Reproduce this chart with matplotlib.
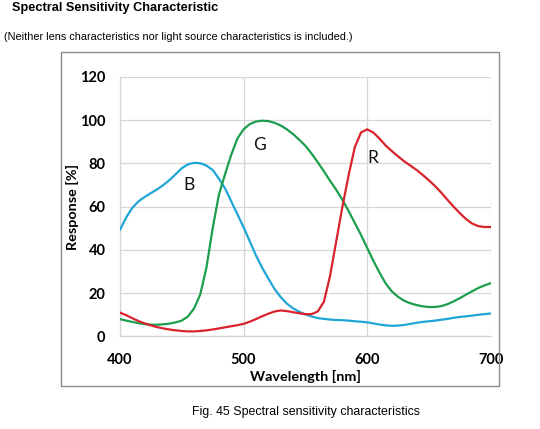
"""Spectral sensitivity chart (B / G / R response vs wavelength)."""

import matplotlib

matplotlib.use("Agg")
import matplotlib.pyplot as plt
from matplotlib.patches import Rectangle

# Data (5 nm steps)
WAVELENGTH = list(range(400, 701, 5))

RESP_B = [49.3, 55, 59.5, 62.5, 64.5, 66.3, 68, 70, 72.3, 75, 77.8, 79.6, 80.3,
          80.1, 79, 77, 73, 68.5, 62.5, 56.5, 50.5, 44, 37.5, 31.8, 26.8, 22,
          18.2, 15.2, 13, 11.4, 10.2, 9.2, 8.5, 8.1, 7.8, 7.6, 7.5, 7.3, 7,
          6.8, 6.5, 6, 5.5, 5.1, 4.9, 5, 5.3, 5.8, 6.3, 6.7, 7, 7.3, 7.7,
          8.1, 8.6, 9, 9.3, 9.6, 10, 10.3, 10.6]

RESP_G = [8, 7.3, 6.7, 6.1, 5.7, 5.4, 5.4, 5.6, 5.9, 6.5, 7.3, 9.2, 13,
          19.5, 32, 50, 65.5, 75, 84, 91.5, 95.8, 98.2, 99.4, 99.8, 99.6, 98.8,
          97.6, 95.8, 93.6, 91, 88.2, 84.6, 80.6, 76.4, 72, 67.8, 63.2, 58,
          52.5, 47, 41, 35, 29.5, 24.5, 20.8, 18.3, 16.5, 15.3, 14.5, 13.9,
          13.6, 13.6, 14, 14.9, 16.2, 17.7, 19.3, 20.9, 22.4, 23.6, 24.6]

RESP_R = [11, 9.8, 8.4, 7.1, 6, 5.1, 4.3, 3.7, 3.2, 2.8, 2.5, 2.3, 2.3,
          2.5, 2.8, 3.2, 3.7, 4.2, 4.7, 5.2, 5.8, 6.8, 8, 9.3, 10.5, 11.5,
          12, 11.7, 11.2, 10.7, 10.3, 10.3, 11.5, 16, 28, 44, 60, 74.5,
          87.5, 94.3, 95.8, 94.3, 91.5, 88.3, 85.7, 83.3, 81, 79, 77, 74.7,
          72.2, 69.5, 66.5, 63.2, 60, 57, 54.3, 52.2, 51, 50.6, 50.6]

X_TICKS = [400, 500, 600, 700]
Y_TICKS = [0, 20, 40, 60, 80, 100, 120]

CURVE_LABELS = ["B", "G", "R"]
CURVE_LABEL_POS = [(456, 70), (513, 88.5), (605, 82.5)]

TITLE = "Spectral Sensitivity Characteristic"
SUBTITLE = "(Neither lens characteristics nor light source characteristics is included.)"
CAPTION = "Fig. 45 Spectral sensitivity characteristics"

# Style
BLUE = "#1fa6d6"
GREEN = "#1c9e4c"
RED = "#d8232c"
GRID_COLOR = "#d6d6d6"
FRAME_COLOR = "#8c8c8c"
LINE_WIDTH = 1.6
CHART_FONT = "Lato"
TEXT_FONT = "Liberation Sans"
TICK_SIZE = 10.5

W_PX, H_PX, DPI = 540, 429, 100
AX_L, AX_R, AX_T, AX_B = 120, 490.7, 77, 336.4   # plot area, pixels from top-left

fig = plt.figure(figsize=(W_PX / DPI, H_PX / DPI), dpi=DPI)
fig.patch.set_facecolor("white")

ax = fig.add_axes([AX_L / W_PX, 1 - AX_B / H_PX,
                   (AX_R - AX_L) / W_PX, (AX_B - AX_T) / H_PX])

ax.plot(WAVELENGTH, RESP_B, color=BLUE, lw=LINE_WIDTH, zorder=3)
ax.plot(WAVELENGTH, RESP_G, color=GREEN, lw=LINE_WIDTH, zorder=3)
ax.plot(WAVELENGTH, RESP_R, color=RED, lw=LINE_WIDTH, zorder=3)

for lab, (lx, ly) in zip(CURVE_LABELS, CURVE_LABEL_POS):
    ax.text(lx, ly, lab, fontsize=12.5, family=CHART_FONT, color="#111111",
            ha="center", va="center", zorder=4)

ax.set_xlim(400, 700)
ax.set_ylim(0, 120)
ax.set_xticks(X_TICKS)
ax.set_yticks(Y_TICKS)
ax.grid(True, color=GRID_COLOR, lw=0.9, zorder=0)
for side in ("top", "right"):
    ax.spines[side].set_visible(False)
for side in ("left", "bottom"):
    ax.spines[side].set_color(GRID_COLOR)
    ax.spines[side].set_linewidth(0.9)
ax.tick_params(length=0)
for t in ax.get_xticklabels() + ax.get_yticklabels():
    t.set_family(CHART_FONT)
    t.set_fontweight("bold")
    t.set_fontsize(TICK_SIZE)
ax.tick_params(axis="x", pad=12)
ax.tick_params(axis="y", pad=10.5)

ax.set_xlabel("Wavelength [nm]", family=CHART_FONT, fontweight="bold",
              fontsize=10.4)
ax.set_ylabel("Response [%]", family=CHART_FONT, fontweight="bold",
              fontsize=10.4)
# centre the axis titles where the reference has them
plot_w, plot_h = AX_R - AX_L, AX_B - AX_T
ax.yaxis.set_label_coords((72 - AX_L) / plot_w, 0.5)
ax.xaxis.set_label_coords(0.5, (AX_B - 376) / plot_h)
ax.xaxis.label.set_va("center")
ax.yaxis.label.set_va("center")

# outer chart frame
fig.add_artist(Rectangle((60.5 / W_PX, 1 - 386 / H_PX), 438.5 / W_PX,
                         334 / H_PX, transform=fig.transFigure, fill=False,
                         edgecolor=FRAME_COLOR, lw=1.0))

fig.text(12 / W_PX, 1 - 11 / H_PX, TITLE, family=TEXT_FONT, fontweight="bold",
         fontsize=9.2, ha="left", va="baseline")
fig.text(4 / W_PX, 1 - 40 / H_PX, SUBTITLE, family=TEXT_FONT, fontsize=7.85,
         ha="left", va="baseline")
fig.text(306 / W_PX, 1 - 415 / H_PX, CAPTION, family=TEXT_FONT, fontsize=8.9,
         ha="center", va="baseline")

fig.savefig("out.png", dpi=DPI, facecolor="white")
